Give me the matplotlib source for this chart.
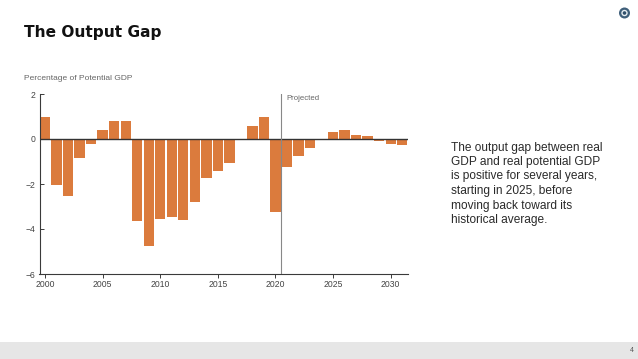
import matplotlib
matplotlib.use("Agg")
import matplotlib.pyplot as plt
from matplotlib.patches import Circle, Rectangle

plt.rcParams['font.family'] = ['Liberation Sans', 'DejaVu Sans']

W, H = 638, 359

# data
years = list(range(2000, 2032))
gap = [1.0, -2.05, -2.55, -0.85, -0.2, 0.4, 0.8, 0.8, -3.65, -4.75, -3.55, -3.45,
       -3.6, -2.8, -1.75, -1.4, -1.05, 0.0, 0.6, 1.0, -3.25, -1.25, -0.75, -0.4,
       0.0, 0.3, 0.4, 0.2, 0.12, -0.08, -0.2, -0.28]
x_ticks = [2000, 2005, 2010, 2015, 2020, 2025, 2030]
y_ticks = [2, 0, -2, -4, -6]
y_labels = ['2', '0', '\u22122', '\u22124', '\u22126']
note_lines = ['The output gap between real', 'GDP and real potential GDP',
              'is positive for several years,', 'starting in 2025, before',
              'moving back toward its', 'historical average.']
note_y = [147.5, 162, 176.5, 191, 205.5, 220]

orange = '#db7b3d'
dark = '#3a3a3a'
grey = '#666666'

fig = plt.figure(figsize=(W / 100, H / 100), dpi=100, facecolor='white')


def fx(px):
    return px / W


def fy(py):
    return 1 - py / H


# grey footer band
fig.patches.append(Rectangle((0, 0), 1, fy(342), transform=fig.transFigure,
                             facecolor='#e6e6e6', edgecolor='none'))
fig.text(fx(632), fy(351), '4', fontsize=5, color='#555555', ha='center', va='center')

# logo
logo_ax = fig.add_axes([0, 0, 1, 1], facecolor='none')
logo_ax.set_xlim(0, W)
logo_ax.set_ylim(H, 0)
logo_ax.axis('off')
logo_ax.add_patch(Circle((624.5, 13), 5.5, facecolor='#3f5f7a', edgecolor='none'))
logo_ax.add_patch(Circle((624.5, 13), 3.2, facecolor='#e8eef2', edgecolor='none'))
logo_ax.add_patch(Circle((624.5, 13), 1.8, facecolor='#2f4f6a', edgecolor='none'))

fig.text(fx(24), fy(33), 'The Output Gap', fontsize=11.1, fontweight='bold',
         family='DejaVu Sans', color='#111111', va='center')
fig.text(fx(24), fy(78.5), 'Percentage of Potential GDP', fontsize=6, color=grey, va='center')

for line, py in zip(note_lines, note_y):
    fig.text(fx(451), fy(py), line, fontsize=8.6, color='#2a2a2a', va='center')

# chart
ax = fig.add_axes([fx(39.5), fy(274), fx(408 - 39.5), (274 - 94) / H])
ax.bar(years, gap, width=0.9, color=orange, edgecolor='none', zorder=2)
ax.axhline(0, color='#333333', lw=1.0, zorder=3)
ax.axvline(2020.47, color='#888888', lw=0.8, zorder=4)
ax.text(2020.97, 1.82, 'Projected', fontsize=5.6, color=grey, va='center')

ax.set_xlim(1999.52, 2031.5)
ax.set_ylim(-6, 2)
ax.set_xticks(x_ticks)
ax.set_yticks(y_ticks)
ax.set_yticklabels(y_labels)
ax.tick_params(axis='x', length=3, width=0.7, color=dark, labelsize=6.2,
               labelcolor='#444444', pad=1.5, direction='out')
ax.tick_params(axis='y', length=3, width=0.7, color=dark, labelsize=6.2,
               labelcolor='#444444', pad=3, direction='in')
ax.spines['top'].set_visible(False)
ax.spines['right'].set_visible(False)
ax.spines['left'].set_color(dark)
ax.spines['bottom'].set_color(dark)
ax.spines['left'].set_linewidth(0.8)
ax.spines['bottom'].set_linewidth(0.8)

fig.savefig('out.png', dpi=100)
